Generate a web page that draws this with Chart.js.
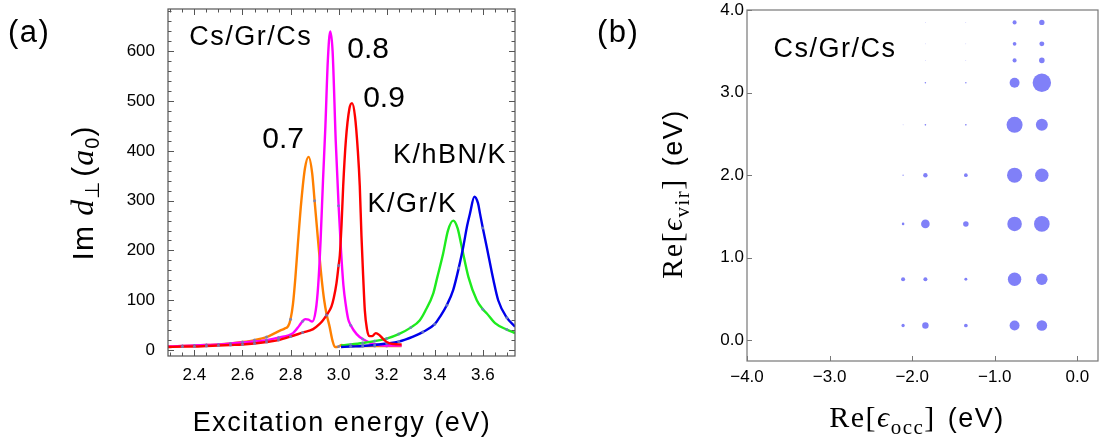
<!DOCTYPE html>
<html>
<head>
<meta charset="utf-8">
<script src="https://cdn.jsdelivr.net/npm/chart.js@4.4.1/dist/chart.umd.min.js"></script>
<style>
  html, body { margin: 0; padding: 0; background: #fff; }
  #wrap { position: relative; width: 1099px; height: 443px; overflow: hidden; }
  #chartA { position: absolute; left: 0; top: 0; }
  #chartB { position: absolute; left: 560px; top: 0; }
</style>
</head>
<body>
<div id="wrap">
  <canvas id="chartA" width="560" height="443"></canvas>
  <canvas id="chartB" width="539" height="443"></canvas>
</div>
<script>
// (a) Im d_perp spectra
var xTicksA = [2.4, 2.6, 2.8, 3.0, 3.2, 3.4, 3.6];
var yTicksA = [0, 100, 200, 300, 400, 500, 600];

var orangeX = [2.29, 2.35, 2.40, 2.45, 2.50, 2.55, 2.60, 2.65, 2.70, 2.735, 2.76, 2.775, 2.79, 2.80, 2.81, 2.82, 2.83, 2.845, 2.86, 2.875, 2.89, 2.90, 2.91, 2.92, 2.93, 2.94, 2.95, 2.962, 2.975, 2.985, 3.00, 3.013, 3.03, 3.05, 3.10, 3.15, 3.20, 3.262];
var orangeY = [7, 8, 9, 10, 11, 13, 16, 20, 26, 34, 40, 43, 48, 62, 92, 145, 210, 300, 365, 388, 355, 300, 245, 190, 140, 100, 72, 48, 18, 6, 7, 10, 8, 8, 8, 8, 8, 8];

var magentaX = [2.29, 2.35, 2.40, 2.45, 2.50, 2.55, 2.60, 2.65, 2.70, 2.75, 2.81, 2.835, 2.85, 2.862, 2.875, 2.89, 2.905, 2.915, 2.925, 2.935, 2.945, 2.955, 2.965, 2.975, 2.988, 3.00, 3.01, 3.02, 3.03, 3.04, 3.05, 3.075, 3.10, 3.13, 3.17, 3.22, 3.262];
var magentaY = [7, 8, 9, 10, 11, 13, 15, 17, 20, 25, 34, 48, 58, 62, 61, 57, 80, 130, 220, 340, 450, 580, 640, 600, 420, 290, 200, 130, 90, 62, 50, 32, 22, 15, 10, 9, 9];

var redX = [2.29, 2.35, 2.40, 2.45, 2.50, 2.55, 2.60, 2.65, 2.70, 2.75, 2.80, 2.85, 2.894, 2.92, 2.935, 2.95, 2.97, 2.98, 2.991, 3.00, 3.005, 3.012, 3.019, 3.03, 3.045, 3.056, 3.068, 3.08, 3.088, 3.095, 3.102, 3.109, 3.118, 3.127, 3.14, 3.155, 3.17, 3.19, 3.21, 3.23, 3.262];
var redY = [6, 7, 7, 8, 9, 10, 11, 13, 16, 20, 27, 35, 42, 52, 60, 70, 87, 105, 134, 170, 190, 250, 329, 420, 485, 496, 470, 400, 330, 230, 150, 80, 42, 28, 28, 34, 30, 20, 14, 12, 11];

var greenX = [3.01, 3.05, 3.10, 3.15, 3.20, 3.25, 3.30, 3.338, 3.36, 3.394, 3.41, 3.435, 3.455, 3.477, 3.495, 3.512, 3.54, 3.575, 3.60, 3.616, 3.651, 3.70, 3.734];
var greenY = [9, 11, 14, 18, 23, 32, 45, 60, 78, 114, 145, 194, 240, 260, 245, 208, 147, 100, 82, 74, 54, 41, 34];

var blueX = [3.01, 3.05, 3.10, 3.15, 3.20, 3.25, 3.31, 3.35, 3.40, 3.422, 3.45, 3.477, 3.50, 3.519, 3.535, 3.547, 3.565, 3.58, 3.588, 3.60, 3.616, 3.644, 3.664, 3.70, 3.734];
var blueY = [6, 7, 8, 10, 13, 17, 27, 36, 52, 67, 90, 121, 165, 208, 250, 275, 308, 295, 275, 245, 208, 141, 100, 65, 47];

// (b) transition weights on (occ, vir) grid, % of the largest one
var xTicksB = [-4, -3, -2, -1, 0];
var yTicksB = [0, 1, 2, 3, 4];
var occX = [-2.11, -1.84, -1.35, -0.76, -0.43];
var virY = [0.18, 0.74, 1.41, 2.00, 2.61, 3.12, 3.39, 3.59, 3.85];
var weights = [
    [18, 35, 20, 54, 58],
    [22, 22, 16, 73, 62],
    [14, 47, 30, 79, 85],
    [7, 24, 20, 82, 73],
    [4, 9, 9, 87, 65],
    [0, 8, 8, 54, 100],
    [0, 3, 3, 22, 30],
    [0, 3, 3, 20, 27],
    [0, 3, 3, 22, 29]
];

(function () {
    var SANS = '"Liberation Sans", Arial, Helvetica, sans-serif';
    var SERIF = '"Liberation Serif", "DejaVu Serif", "Times New Roman", serif';
    Chart.defaults.font.family = SANS;
    Chart.defaults.color = '#000';

    function pts(xs, ys) { return xs.map(function (x, i) { return { x: x, y: ys[i] }; }); }
    function onGrid(x) { return x !== undefined && Math.abs(x * 20 - Math.round(x * 20)) < 1e-6; }

    function curve(label, xs, ys, color, order) {
        return {
            label: label,
            data: pts(xs, ys),
            borderColor: color,
            borderWidth: 2.4,
            cubicInterpolationMode: 'monotone',
            fill: false,
            order: order,
            pointRadius: function (c) { return c.raw && onGrid(c.raw.x) ? 1.5 : 0; },
            pointBackgroundColor: 'rgba(110,130,190,0.85)',
            pointBorderWidth: 0,
            pointHoverRadius: 0
        };
    }

    function drawParts(ctx, parts, x, y, o) {
        ctx.save();
        ctx.translate(x, y);
        if (o.rotate) ctx.rotate(o.rotate);
        ctx.letterSpacing = (o.spacing || 0) + 'px';
        ctx.textBaseline = 'alphabetic';
        ctx.textAlign = 'left';
        ctx.fillStyle = '#000';
        var total = 0;
        parts.forEach(function (p) { ctx.font = p.font; p.w = ctx.measureText(p.t).width + (p.gap || 0); total += p.w; });
        var cx = o.align === 'center' ? -total / 2 : 0;
        parts.forEach(function (p) { ctx.font = p.font; ctx.fillText(p.t, cx, p.dy || 0); cx += p.w; });
        ctx.restore();
    }

    // frame with inward ticks, Mathematica style
    var framePlugin = {
        id: 'frame',
        afterDatasetsDraw: function (chart, args, o) {
            var ctx = chart.ctx, a = chart.chartArea;
            var sx = chart.scales.x, sy = chart.scales.y;
            ctx.save();
            ctx.strokeStyle = o.color;
            ctx.lineWidth = 1.2;
            ctx.strokeRect(a.left, a.top, a.right - a.left, a.bottom - a.top);
            ctx.lineWidth = 1;
            ctx.beginPath();
            function ticks(scale, minor, major, fn) {
                for (var k = Math.ceil(scale.min / minor - 1e-9); k * minor <= scale.max + 1e-9; k++) {
                    var v = k * minor;
                    var isMajor = Math.abs(v / major - Math.round(v / major)) < 1e-6;
                    fn(Math.round(scale.getPixelForValue(v)) + 0.5, isMajor ? o.majorLen : o.minorLen);
                }
            }
            ticks(sx, o.xMinor, o.xMajor, function (p, len) {
                ctx.moveTo(p, a.bottom); ctx.lineTo(p, a.bottom - len);
                if (o.all) { ctx.moveTo(p, a.top); ctx.lineTo(p, a.top + len); }
            });
            ticks(sy, o.yMinor, o.yMajor, function (p, len) {
                ctx.moveTo(a.left, p); ctx.lineTo(a.left + len, p);
                if (o.all) { ctx.moveTo(a.right, p); ctx.lineTo(a.right - len, p); }
            });
            ctx.stroke();
            ctx.restore();
        }
    };

    var textPlugin = {
        id: 'texts',
        afterDraw: function (chart, args, o) {
            var ctx = chart.ctx, sx = chart.scales.x, sy = chart.scales.y;
            (o.labels || []).forEach(function (l) {
                drawParts(ctx, [{ t: l.text, font: l.size + 'px ' + SANS }],
                    sx.getPixelForValue(l.x), sy.getPixelForValue(l.y), { spacing: l.spacing });
            });
            (o.titles || []).forEach(function (t) {
                drawParts(ctx, t.parts, t.x, t.y, t);
            });
        }
    };

    // fixed axis box, no extra room for overhanging labels
    function fixedAxis(size, horizontal) {
        return function (scale) {
            if (horizontal) scale.height = size; else scale.width = size;
            scale.paddingLeft = scale.paddingRight = scale.paddingTop = scale.paddingBottom = 0;
        };
    }
    function setTicks(list) {
        return function (scale) { scale.ticks = list.map(function (v) { return { value: v }; }); };
    }
    function fmt(v) { var s = Math.abs(v).toFixed(1); return v < 0 ? '\u2212' + s : s; }

    // panel (a)
    new Chart(document.getElementById('chartA'), {
        type: 'line',
        data: {
            datasets: [
                curve('0.9', redX, redY, 'rgb(255,0,0)', 0),
                curve('K/hBN/K', blueX, blueY, 'rgb(0,0,235)', 1),
                curve('K/Gr/K', greenX, greenY, 'rgb(30,235,30)', 2),
                curve('0.8', magentaX, magentaY, 'rgb(255,0,255)', 3),
                curve('0.7', orangeX, orangeY, 'rgb(255,128,0)', 4)
            ]
        },
        options: {
            responsive: false,
            animation: false,
            devicePixelRatio: 1,
            layout: { autoPadding: false, padding: { left: 0, right: 45, top: 9, bottom: 0 } },
            plugins: {
                legend: { display: false },
                tooltip: { enabled: false },
                frame: { color: '#555', all: true, majorLen: 6, minorLen: 3.5, xMinor: 0.05, xMajor: 0.2, yMinor: 20, yMajor: 100 },
                texts: {
                    labels: [
                        { text: 'Cs/Gr/Cs', x: 2.378, y: 613, size: 27, spacing: 1.5 },
                        { text: '0.8', x: 3.036, y: 587, size: 30 },
                        { text: '0.9', x: 3.102, y: 489, size: 30 },
                        { text: '0.7', x: 2.682, y: 406, size: 30 },
                        { text: 'K/hBN/K', x: 3.226, y: 376, size: 27, spacing: 1.5 },
                        { text: 'K/Gr/K', x: 3.12, y: 278, size: 27, spacing: 1.5 }
                    ],
                    titles: [
                        { parts: [{ t: '(a)', font: '31px ' + SANS }], x: 8, y: 42, spacing: 1.5 },
                        { parts: [{ t: 'Excitation energy (eV)', font: '27px ' + SANS }], x: 342, y: 431, align: 'center', spacing: 1.5 },
                        {
                            parts: [
                                { t: 'Im ', font: '30px ' + SANS },
                                { t: 'd', font: 'italic 32px ' + SERIF },
                                { t: '\u22a5', font: '20px ' + SANS, dy: 6, gap: 4 },
                                { t: '(', font: '30px ' + SANS },
                                { t: 'a', font: 'italic 32px ' + SERIF },
                                { t: '0', font: '20px ' + SANS, dy: 6 },
                                { t: ')', font: '30px ' + SANS }
                            ],
                            x: 93, y: 193, align: 'center', rotate: -Math.PI / 2, spacing: 1
                        }
                    ]
                }
            },
            scales: {
                x: {
                    type: 'linear', min: 2.29, max: 3.734,
                    grid: { display: false, drawTicks: false }, border: { display: false },
                    afterFit: fixedAxis(87, true),
                    afterBuildTicks: setTicks(xTicksA),
                    ticks: { autoSkip: false, maxRotation: 0, padding: 9, font: { size: 17 }, callback: fmt }
                },
                y: {
                    type: 'linear', min: -12, max: 685,
                    grid: { display: false, drawTicks: false }, border: { display: false },
                    afterFit: fixedAxis(168, false),
                    afterBuildTicks: setTicks(yTicksA),
                    ticks: { autoSkip: false, padding: 13, font: { size: 17 } }
                }
            }
        },
        plugins: [framePlugin, textPlugin]
    });

    // panel (b)
    var R_MAX = 9.2;
    var bubbles = [];
    virY.forEach(function (vy, i) {
        occX.forEach(function (ox, j) {
            if (weights[i][j] > 0) bubbles.push({ x: ox, y: vy, r: weights[i][j] / 100 * R_MAX });
        });
    });

    function eps(sub) {
        return [
            { t: 'Re[', font: '30px ' + SERIF },
            { t: '\u03f5', font: 'italic 30px ' + SERIF },
            { t: sub, font: '21px ' + SERIF, dy: 7 },
            { t: ']', font: '30px ' + SERIF, gap: 12 },
            { t: '(eV)', font: '27px ' + SANS }
        ];
    }

    new Chart(document.getElementById('chartB'), {
        type: 'bubble',
        data: {
            datasets: [{
                label: 'weight',
                data: bubbles,
                backgroundColor: 'rgb(128,128,248)',
                borderWidth: 0,
                hoverRadius: 0
            }]
        },
        options: {
            responsive: false,
            animation: false,
            devicePixelRatio: 1,
            layout: { autoPadding: false, padding: { left: 0, right: 1, top: 10, bottom: 0 } },
            plugins: {
                legend: { display: false },
                tooltip: { enabled: false },
                frame: { color: '#777', all: false, majorLen: 5, minorLen: 5, xMinor: 1, xMajor: 1, yMinor: 1, yMajor: 1 },
                texts: {
                    labels: [{ text: 'Cs/Gr/Cs', x: -3.68, y: 3.435, size: 27, spacing: 1.5 }],
                    titles: [
                        { parts: [{ t: '(b)', font: '31px ' + SANS }], x: 37, y: 42, spacing: 1.5 },
                        { parts: eps('occ'), x: 357, y: 427, align: 'center', spacing: 1.5 },
                        { parts: eps('vir'), x: 122, y: 194, align: 'center', rotate: -Math.PI / 2, spacing: 1.5 }
                    ]
                }
            },
            scales: {
                x: {
                    type: 'linear', min: -4, max: 0.25,
                    grid: { display: false, drawTicks: false }, border: { display: false },
                    afterFit: fixedAxis(82, true),
                    afterBuildTicks: setTicks(xTicksB),
                    ticks: { autoSkip: false, maxRotation: 0, padding: 6, font: { size: 17 }, callback: fmt }
                },
                y: {
                    type: 'linear', min: -0.25, max: 4,
                    grid: { display: false, drawTicks: false }, border: { display: false },
                    afterFit: fixedAxis(187, false),
                    afterBuildTicks: setTicks(yTicksB),
                    ticks: { autoSkip: false, padding: 3, font: { size: 17 }, callback: fmt }
                }
            }
        },
        plugins: [framePlugin, textPlugin]
    });
})();
</script>
</body>
</html>
